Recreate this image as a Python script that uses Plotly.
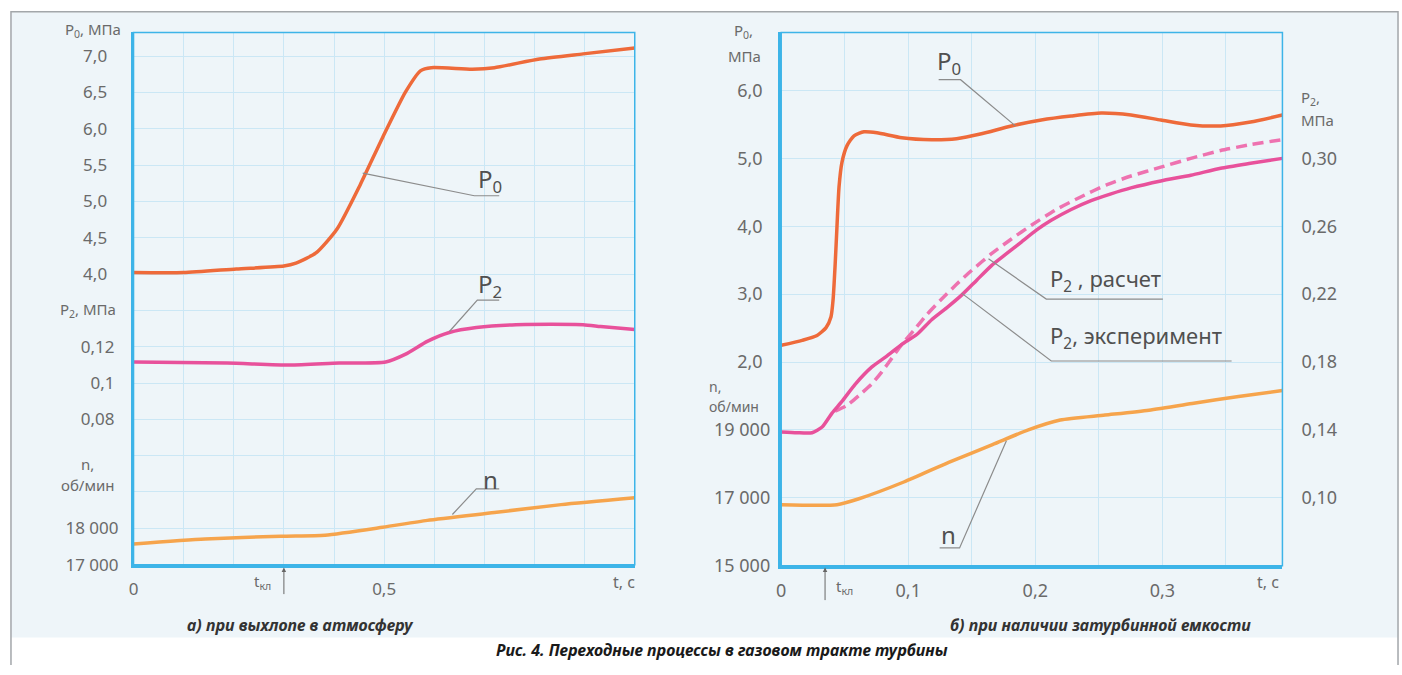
import plotly.graph_objects as go

W, H = 1402, 675

# ---------------- data: panel a) exhaust to atmosphere ----------------
t_p0_a = [0, 0.10, 0.205, 0.30, 0.324, 0.364, 0.406, 0.453, 0.497, 0.543, 0.573, 0.594,
          0.676, 0.72, 0.81, 0.897, 1.0]
p0_a = [4.02, 4.02, 4.07, 4.11, 4.15, 4.29, 4.62, 5.24, 5.88, 6.51, 6.80, 6.84,
        6.82, 6.84, 6.96, 7.03, 7.11]

t_p2_a = [0, 0.187, 0.312, 0.41, 0.503, 0.543, 0.586, 0.63, 0.684, 0.763, 0.897, 0.932, 1.0]
p2_a = [0.1116, 0.1110, 0.1099, 0.1110, 0.1116, 0.1159, 0.1229, 0.1278, 0.1305, 0.1321,
        0.1321, 0.1311, 0.1294]

t_n_a = [0, 0.143, 0.294, 0.382, 0.497, 0.586, 0.72, 0.853, 1.0]
n_a = [17569, 17704, 17785, 17812, 18029, 18219, 18435, 18652, 18841]

# ---------------- data: panel б) with after-turbine vessel ----------------
t_p0_b = [0, 0.0165, 0.0282, 0.0353, 0.0392, 0.0408, 0.0424, 0.0439, 0.0455, 0.0478,
          0.0518, 0.0573, 0.0651, 0.0753, 0.0949, 0.1184, 0.138, 0.1576, 0.1812, 0.2047,
          0.2282, 0.2518, 0.2753, 0.2988, 0.3224, 0.3459, 0.3694, 0.3945]
p0_b = [2.246, 2.319, 2.391, 2.507, 2.667, 2.913, 3.420, 4.0, 4.580, 4.942,
        5.188, 5.333, 5.391, 5.377, 5.304, 5.275, 5.290, 5.362, 5.478, 5.565,
        5.623, 5.667, 5.638, 5.565, 5.493, 5.478, 5.536, 5.638]

t_p2exp_b = [0, 0.0125, 0.0243, 0.0322, 0.04, 0.0478, 0.058, 0.0714, 0.0831, 0.0949,
             0.1067, 0.1184, 0.1302, 0.142, 0.1537, 0.1655, 0.1773, 0.189, 0.2008, 0.2125,
             0.2282, 0.2439, 0.2596, 0.2753, 0.2988, 0.3224, 0.3459, 0.3694, 0.3945]
p2exp_b = [0.1388, 0.1383, 0.1383, 0.1417, 0.1499, 0.1568, 0.1667, 0.1771, 0.1835, 0.1904,
           0.1962, 0.2049, 0.2119, 0.2194, 0.2281, 0.2368, 0.2438, 0.2507, 0.2577, 0.2635,
           0.2699, 0.2751, 0.2791, 0.2826, 0.2867, 0.2901, 0.2942, 0.2971, 0.3000]

t_p2calc_b = [0.0424, 0.0518, 0.0612, 0.0714, 0.0792, 0.0871, 0.0949, 0.1043, 0.1145, 0.1263,
              0.138, 0.1498, 0.1655, 0.1812, 0.1969, 0.2165, 0.2361, 0.2557, 0.2753, 0.2988,
              0.3224, 0.3459, 0.3694, 0.3945]
p2calc_b = [0.1510, 0.1545, 0.1603, 0.1672, 0.1742, 0.1823, 0.1904, 0.1986, 0.2078, 0.2171,
            0.2258, 0.2339, 0.2438, 0.2525, 0.2606, 0.2699, 0.2774, 0.2843, 0.2896, 0.2948,
            0.3000, 0.3046, 0.3081, 0.3110]

t_n_b = [0, 0.0439, 0.0612, 0.0965, 0.1318, 0.1663, 0.1945, 0.2196, 0.2549, 0.2894,
         0.3247, 0.36, 0.3945]
n_b = [16797, 16797, 16971, 17464, 18043, 18565, 19000, 19290, 19435, 19580,
       19783, 19986, 20159]

# tick labels
p0a_ticks = [4.0, 4.5, 5.0, 5.5, 6.0, 6.5, 7.0]
p0a_text = ["4,0", "4,5", "5,0", "5,5", "6,0", "6,5", "7,0"]
p2a_ticks = [0.08, 0.1, 0.12]
p2a_text = ["0,08", "0,1", "0,12"]
na_ticks = [17000, 18000]
na_text = ["17 000", "18 000"]
ta_ticks = [0, 0.5]
ta_text = ["0", "0,5"]

p0b_ticks = [2.0, 3.0, 4.0, 5.0, 6.0]
p0b_text = ["2,0", "3,0", "4,0", "5,0", "6,0"]
nb_ticks = [15000, 17000, 19000]
nb_text = ["15 000", "17 000", "19 000"]
p2b_ticks = [0.10, 0.14, 0.18, 0.22, 0.26, 0.30]
p2b_text = ["0,10", "0,14", "0,18", "0,22", "0,26", "0,30"]
tb_ticks = [0, 0.1, 0.2, 0.3]
tb_text = ["0", "0,1", "0,2", "0,3"]

# ---------------- style ----------------
FONT = "Noto Sans, Open Sans, DejaVu Sans, sans-serif"
GRID = "#cbe7f5"
BLUE = "#3db4e8"
BG = "#eef5f9"
TXT = "#6a6a6a"
C_P0 = "#ee6a3a"
C_P2 = "#e8519b"
C_P2D = "#ee72b0"
C_N = "#f6a44c"
LEAD = "#8c8c8c"


def px(x, y):
    return x / W, 1 - y / H


fig = go.Figure()


def line(x, y, xa, ya, color, width=3.5, dash="solid"):
    fig.add_trace(go.Scatter(x=x, y=y, xaxis=xa, yaxis=ya, mode="lines",
                             line=dict(color=color, width=width, dash=dash,
                                       shape="spline", smoothing=0.6),
                             hoverinfo="skip", showlegend=False))


line(t_p0_a, p0_a, "x", "y", C_P0)
line(t_p2_a, p2_a, "x", "y2", C_P2)
line(t_n_a, n_a, "x", "y3", C_N)
line(t_p0_b, p0_b, "x2", "y4", C_P0)
line(t_p2calc_b, p2calc_b, "x2", "y6", C_P2D, width=3.5, dash="11px,6px")
line(t_p2exp_b, p2exp_b, "x2", "y6", C_P2)
line(t_n_b, n_b, "x2", "y5", C_N)

font_a = dict(family=FONT, size=17, color=TXT)
font_b = dict(family=FONT, size=18, color=TXT)

dom_xa = [129 / W, 632 / W]
dom_xb = [779 / W, 1282 / W]
dom_ya = [1 - 574 / H, 1 - 33 / H]
dom_yb = [1 - 575 / H, 1 - 33 / H]


def yax(rng, tv, tt, dom, standoff, tf, base=None, side="left", anchor="x",
        grid_dtick=None, showline=False):
    d = dict(range=rng, tickvals=tv, ticktext=tt, domain=dom, side=side, anchor=anchor,
             zeroline=False, ticks="", ticklabelstandoff=standoff, tickfont=tf,
             showline=showline, linecolor=BLUE, linewidth=3, fixedrange=True)
    if base:
        d["overlaying"] = base
        d["showgrid"] = False
    else:
        d["showgrid"] = True
        d["gridcolor"] = GRID
        d["gridwidth"] = 1
        d["minor"] = dict(dtick=grid_dtick, tick0=0, showgrid=True, gridcolor=GRID,
                          gridwidth=1, ticks="")
    return d


def xax(rng, tv, tt, dom, anchor, grid_dtick, tf):
    return dict(range=rng, tickvals=tv, ticktext=tt, domain=dom, anchor=anchor,
                zeroline=False, ticks="", ticklabelstandoff=7, tickfont=tf,
                showgrid=True, gridcolor=GRID, gridwidth=1,
                minor=dict(dtick=grid_dtick, tick0=0, showgrid=True, gridcolor=GRID,
                           gridwidth=1, ticks=""),
                showline=True, linecolor=BLUE, linewidth=3, fixedrange=True)


fig.update_layout(
    width=W, height=H, autosize=False,
    margin=dict(l=0, r=0, t=0, b=0),
    paper_bgcolor="white", plot_bgcolor=BG,
    showlegend=False,
    font=dict(family=FONT, color=TXT),
    xaxis=xax([0, 1.0], ta_ticks, ta_text, dom_xa, "y", 0.1, font_a),
    yaxis=yax([0, 7.3247], p0a_ticks, p0a_text, dom_ya, 20, font_a, grid_dtick=0.5,
              showline=True),
    yaxis2=yax([0, 0.29298], p2a_ticks, p2a_text, dom_ya, 18, font_a, base="y"),
    yaxis3=yax([17000, 31649], na_ticks, na_text, dom_ya, 14, font_a, base="y"),
    xaxis2=xax([0, 0.39451], tb_ticks, tb_text, dom_xb, "y4", 0.05, font_b),
    yaxis4=yax([-1, 6.8551], p0b_ticks, p0b_text, dom_yb, 12, font_b, anchor="x2",
               grid_dtick=1, showline=True),
    yaxis5=yax([15000, 30710], nb_ticks, nb_text, dom_yb, 10, font_b, base="y4",
               anchor="x2"),
    yaxis6=yax([0.06, 0.3742], p2b_ticks, p2b_text, dom_yb, 18, font_b, base="y4",
               anchor="x2", side="right"),
)

shapes = []
# panel background and frame
x0, y0 = px(6, 12)
x1, y1 = px(1398, 648)
shapes.append(dict(type="rect", xref="paper", yref="paper", x0=x0, y0=y1, x1=x1, y1=y0,
                   fillcolor=BG, line=dict(width=0), layer="below"))
fx0, fy0 = px(6, 12)
fx1, fy1 = px(1398, 676)
shapes.append(dict(type="path", xref="paper", yref="paper",
                   path=f"M{fx0},{fy1} L{fx0},{fy0} L{fx1},{fy0} L{fx1},{fy1}",
                   line=dict(color="#a3a7aa", width=1.5), layer="below"))
# thin plot borders
for xr, yr in (("x domain", "y domain"), ("x2 domain", "y4 domain")):
    shapes.append(dict(type="rect", xref=xr, yref=yr, x0=0, y0=0, x1=1, y1=1,
                       line=dict(color=BLUE, width=1.5), layer="above"))


def leader(points):
    pts = [px(x, y) for x, y in points]
    path = "M" + " L".join(f"{a},{b}" for a, b in pts)
    shapes.append(dict(type="path", xref="paper", yref="paper", path=path,
                       line=dict(color=LEAD, width=1.2), layer="above"))


leader([(359, 176), (471, 199), (496, 199)])
leader([(446, 337), (474, 305), (496, 305)])
leader([(449, 523), (473, 497), (496, 497)])
leader([(1014, 128), (959, 81), (937, 81)])
leader([(987, 263), (1045, 304), (1162, 304)])
leader([(960, 298), (1050, 367), (1231, 367)])
leader([(1005, 448), (958, 557), (938, 557)])
fig.update_layout(shapes=shapes)

ann = []


def text(x, y, s, size=15, color=TXT, xanchor="center", family=FONT):
    ax_, ay_ = px(x, y)
    ann.append(dict(x=ax_, y=ay_, xref="paper", yref="paper", text=s, showarrow=False,
                    xanchor=xanchor, yanchor="middle",
                    font=dict(family=family, size=size, color=color)))


# axis titles, panel a
text(118, 31, "P<sub>0</sub>, МПа", 15, xanchor="right")
text(113, 315, "P<sub>2</sub>, МПа", 15, xanchor="right")
text(83, 472, "n,", 15)
text(83, 493, "об/мин", 15)
text(621, 592, "t, c", 16)
text(258, 592, "t<sub>кл</sub>", 15)
# axis titles, panel б
text(741, 32, "P<sub>0</sub>,", 15)
text(742, 57, "МПа", 15)
text(705, 393, "n,", 14, xanchor="left")
text(705, 413, "об/мин", 14, xanchor="left")
text(1299, 100, "P<sub>2</sub>,", 15, xanchor="left")
text(1299, 122, "МПа", 15, xanchor="left")
text(1268, 592, "t, c", 16)
text(843, 597, "t<sub>кл</sub>", 15)

# curve labels
CL = "#505050"
text(487, 183, "P<sub>0</sub>", 24, CL)
text(487, 290, "P<sub>2</sub>", 24, CL)
text(487, 487, "n", 24, CL)
text(947, 63, "P<sub>0</sub>", 24, CL)
text(1047, 285, "P<sub>2</sub> , расчет", 22, CL, xanchor="left")
text(1047, 343, "P<sub>2</sub>, эксперимент", 22, CL, xanchor="left")
text(947, 543, "n", 24, CL)

# captions
text(297, 635, "<b><i>а) при выхлопе в атмосферу</i></b>", 16, "#333333")
text(1099, 635, "<b><i>б) при наличии затурбинной емкости</i></b>", 16, "#333333")
text(720, 661, "<b><i>Рис. 4. Переходные процессы в газовом тракте турбины</i></b>", 16,
     "#1a1a1a")

# t_kl arrows
for xv, xr, length in ((0.30, "x", 28), (0.0345, "x2", 34)):
    ann.append(dict(x=xv, y=1 - 577 / H, xref=xr, yref="paper", ax=0, ay=length,
                    axref="pixel", ayref="pixel", text="", showarrow=True,
                    arrowhead=2, arrowsize=0.9, arrowwidth=1, arrowcolor="#666666"))

fig.update_layout(annotations=ann)

fig.write_html("out.html",
               config={"displayModeBar": False, "staticPlot": True},
               post_script="document.body.style.margin='0px';"
                           "document.body.style.overflow='hidden';")
